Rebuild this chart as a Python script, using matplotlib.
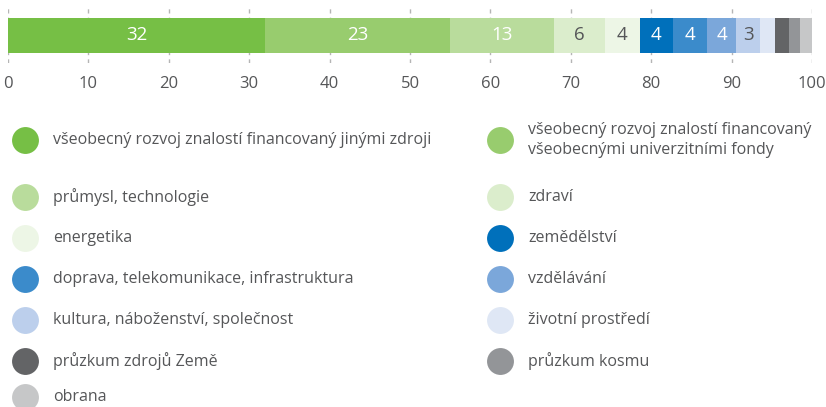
import matplotlib

matplotlib.use("Agg")
import matplotlib.pyplot as plt
import numpy as np

plt.rcParams["font.family"] = ["Open Sans", "DejaVu Sans"]

CATEGORIES = [
    "všeobecný rozvoj znalostí financovaný jinými zdroji",
    "všeobecný rozvoj znalostí financovaný\nvšeobecnými univerzitními fondy",
    "průmysl, technologie",
    "zdraví",
    "energetika",
    "zemědělství",
    "doprava, telekomunikace, infrastruktura",
    "vzdělávání",
    "kultura, náboženství, společnost",
    "životní prostředí",
    "průzkum zdrojů Země",
    "průzkum kosmu",
    "obrana",
]
VALUES = [32.0, 23.0, 12.9, 6.35, 4.35, 4.1, 4.2, 3.7, 2.9, 1.9, 1.75, 1.4, 1.5]
COLORS = ["#76bf45", "#98cc6e", "#b9dc9c", "#dbedcc", "#edf6e6",
          "#0070bb", "#3b8bcb", "#7ba7da", "#bccfec", "#dfe7f5",
          "#636466", "#939598", "#c6c7c8"]
DARK_LABEL = [False, False, False, True, True, False, False, False, True,
              True, False, False, False]
TICKS = [0, 10, 20, 30, 40, 50, 60, 70, 80, 90, 100]

INK = "#555658"
W, H = 826, 407

fig = plt.figure(figsize=(W / 100, H / 100), dpi=100)
ax = fig.add_axes([8 / W, 1 - 63 / H, 804 / W, 58 / H])

left = np.concatenate([[0], np.cumsum(VALUES)[:-1]])
ax.barh(0, VALUES, left=left, height=1.0, color=COLORS, linewidth=0,
        zorder=2)
for v, l, dark in zip(VALUES, left, DARK_LABEL):
    if v >= 2.5:
        ax.text(l + v / 2, 0, f"{round(v)}", ha="center", va="center",
                fontsize=13.5, color=INK if dark else "white", zorder=3)

ax.set_xlim(0, 100)
ax.set_ylim(-0.5 - 10 / 35, 0.5 + 13 / 35)
ax.set_xticks(TICKS)
ax.set_yticks([])
ax.grid(axis="x", linestyle=(0, (3, 3)), color="#b5b5b5", lw=1, zorder=1)
ax.set_axisbelow(True)
for s in ax.spines.values():
    s.set_visible(False)
ax.tick_params(axis="x", length=0, pad=9, labelsize=12, labelcolor=INK)

# legend, two columns, laid out like the original page
lg = fig.add_axes([0, 0, 1, 1])
lg.set_xlim(0, W)
lg.set_ylim(H, 0)
lg.axis("off")
col_x = [25, 500]
for i, (name, c) in enumerate(zip(CATEGORIES, COLORS)):
    row, col = divmod(i, 2)
    y = 140 + 41 * row + (16 if row > 0 else 0)
    y = min(y, 397)
    lg.scatter(col_x[col], y, s=375, color=c, linewidth=0)
    lg.text(col_x[col] + 28, y, name, ha="left", va="center", fontsize=11.5,
            color=INK, linespacing=1.3)

fig.savefig("out.png", dpi=100)
